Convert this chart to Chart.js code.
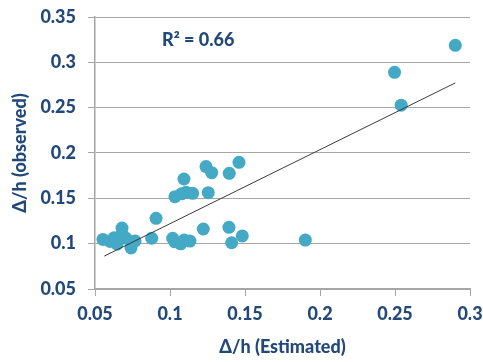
<!DOCTYPE html>
<html>
<head>
<meta charset="utf-8">
<script src="https://cdn.jsdelivr.net/npm/chart.js@4/dist/chart.umd.min.js"></script>
<style>
  html, body { margin: 0; padding: 0; background: #fff; overflow: hidden; }
  #wrap { width: 483px; height: 362px; overflow: hidden; }
</style>
</head>
<body>
<div id="wrap"><canvas id="scatterChart" width="500" height="362"></canvas></div>
<script>
// values
const estimated = [0.0553, 0.060, 0.0627, 0.0647, 0.068, 0.068, 0.0707, 0.074, 0.0767,
  0.0878, 0.0907, 0.1018, 0.1032, 0.1071, 0.1095, 0.1133,
  0.1033, 0.1093, 0.1077, 0.1107, 0.1151, 0.1222, 0.124, 0.1278, 0.1255,
  0.1395, 0.146, 0.1393, 0.1411, 0.1482, 0.1902, 0.2497, 0.2541, 0.2902];
const observed = [0.1047, 0.1025, 0.1065, 0.0996, 0.1173, 0.1107, 0.106, 0.0952, 0.103,
  0.106, 0.128, 0.106, 0.102, 0.0998, 0.104, 0.1029,
  0.1518, 0.1713, 0.155, 0.1566, 0.1555, 0.1162, 0.185, 0.1783, 0.1562,
  0.1776, 0.1897, 0.118, 0.101, 0.1085, 0.104, 0.289, 0.2527, 0.3188];
const trendX = [0.0562, 0.2902];
const trendY = [0.0863, 0.2773];
const xTicks = [0.05, 0.1, 0.15, 0.2, 0.25, 0.3];
const yTicks = [0.05, 0.1, 0.15, 0.2, 0.25, 0.3, 0.35];
const r2Label = 'R² = 0.66';

const navy = '#23497a';
const gridGray = '#a6a6a6';
const boldFont = { family: 'Lato', size: 18, weight: 900 };

// R² text placed in data space
const r2Plugin = {
    id: 'r2Text',
    afterDatasetsDraw(chart) {
        const { ctx, scales } = chart;
        ctx.save();
        ctx.font = '900 18px Lato';
        ctx.fillStyle = navy;
        ctx.textBaseline = 'middle';
        ctx.fillText(r2Label, scales.x.getPixelForValue(0.0947), scales.y.getPixelForValue(0.3246));
        ctx.restore();
    }
};

new Chart(document.getElementById('scatterChart'), {
    type: 'scatter',
    data: {
        datasets: [
            {
                type: 'line',
                data: trendX.map((x, i) => ({ x: x, y: trendY[i] })),
                borderColor: '#3a3a3a',
                borderWidth: 1,
                pointRadius: 0,
                fill: false,
                order: 0
            },
            {
                data: estimated.map((x, i) => ({ x: x, y: observed[i] })),
                backgroundColor: '#43a9c4',
                borderWidth: 0,
                pointRadius: 6.5,
                order: 1
            }
        ]
    },
    options: {
        responsive: false,
        animation: false,
        layout: { padding: { top: 17, right: 30, left: 0, bottom: 0 } },
        plugins: { legend: { display: false }, tooltip: { enabled: false } },
        scales: {
            x: {
                type: 'linear',
                min: 0.05,
                max: 0.3,
                afterBuildTicks: axis => { axis.ticks = xTicks.map(v => ({ value: v })); },
                afterFit: axis => {
                    axis.height = 73;
                    axis.paddingLeft = 0;
                    axis.paddingRight = 0;
                },
                ticks: {
                    color: navy,
                    font: boldFont,
                    padding: 7,
                    maxRotation: 0,
                    callback: v => String(v)
                },
                grid: { drawOnChartArea: false, drawTicks: true, tickLength: 7, color: gridGray },
                border: { color: gridGray, width: 1.5 },
                title: {
                    display: true,
                    text: 'Δ/h (Estimated)',
                    color: navy,
                    font: boldFont,
                    padding: { top: 0, bottom: 4 }
                }
            },
            y: {
                type: 'linear',
                min: 0.05,
                max: 0.35,
                afterBuildTicks: axis => { axis.ticks = yTicks.map(v => ({ value: v })); },
                afterFit: axis => {
                    axis.width = 95;
                    axis.paddingTop = 0;
                    axis.paddingBottom = 0;
                },
                ticks: {
                    color: navy,
                    font: boldFont,
                    padding: 12,
                    callback: v => String(v)
                },
                grid: { color: gridGray, lineWidth: 1, tickLength: 7 },
                border: { color: gridGray, width: 1.5 },
                title: {
                    display: true,
                    text: 'Δ/h (observed)',
                    color: navy,
                    font: boldFont,
                    padding: { top: 9, bottom: 0 }
                }
            }
        }
    },
    plugins: [r2Plugin]
});
</script>
</body>
</html>
